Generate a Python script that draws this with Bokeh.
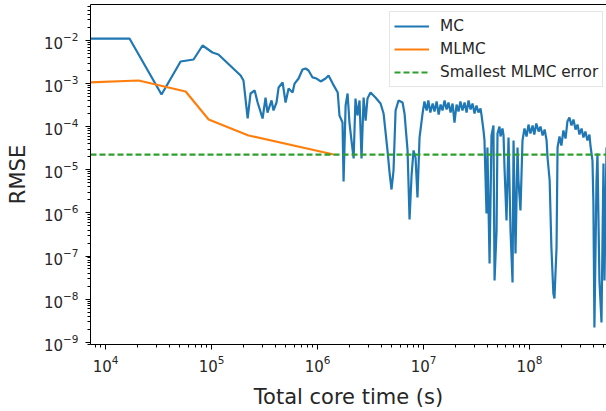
from bokeh.plotting import figure
from bokeh.models import Range1d, Legend, LegendItem, LogAxis, FixedTicker, LogTicker, LogTickFormatter
from bokeh.embed import file_html
from bokeh.resources import INLINE

# Plain Monte Carlo: (total core time [s], RMSE)
mc_samples = [
    (6.9e3, 1.11e-2), (1.68e4, 1.11e-2), (3.37e4, 5.58e-4), (5.10e4, 3.26e-3),
    (6.76e4, 3.62e-3), (8.22e4, 7.66e-3), (1.02e5, 5.27e-3), (1.16e5, 4.73e-3),
    (1.88e5, 1.54e-3), (2.00e5, 1.18e-3), (2.19e5, 1.55e-4), (2.33e5, 5.89e-4),
    (2.55e5, 6.92e-4), (2.72e5, 3.64e-4), (3.03e5, 1.55e-4), (3.23e5, 4.75e-4),
    (3.37e5, 2.13e-4), (3.68e5, 4.06e-4), (3.84e5, 2.38e-4), (4.10e5, 3.64e-4),
    (4.29e5, 8.13e-4), (4.68e5, 1.06e-3), (4.99e5, 3.64e-4), (5.33e5, 7.69e-4),
    (5.81e5, 6.22e-4), (6.07e5, 1.00e-3), (6.62e5, 1.31e-3), (7.21e5, 2.12e-3),
    (7.71e5, 2.24e-3), (8.22e5, 2.01e-3), (8.97e5, 1.39e-3), (9.79e5, 1.31e-3),
    (1.07e6, 1.12e-3), (1.19e6, 1.31e-3), (1.27e6, 1.54e-3), (1.39e6, 1.00e-3),
    (1.55e6, 6.22e-4), (1.61e6, 1.82e-4), (1.72e6, 1.25e-4), (1.76e6, 5.36e-6),
    (1.84e6, 3.10e-4), (1.92e6, 5.89e-4), (2.00e6, 1.25e-4), (2.09e6, 4.79e-5),
    (2.19e6, 1.83e-5), (2.28e6, 4.51e-4), (2.38e6, 1.82e-4), (2.49e6, 4.06e-4),
    (2.60e6, 1.83e-5), (2.72e6, 4.75e-4), (2.84e6, 1.39e-4), (2.96e6, 4.51e-4),
    (3.16e6, 6.22e-4), (3.52e6, 4.75e-4), (3.93e6, 3.45e-4), (4.20e6, 2.02e-4),
    (4.57e6, 2.81e-5), (4.78e6, 8.65e-6), (4.99e6, 3.49e-6), (5.21e6, 9.63e-6),
    (5.45e6, 2.38e-4), (5.81e6, 4.06e-4), (6.34e6, 3.64e-4), (6.62e6, 2.02e-4),
    (7.07e6, 2.81e-5), (7.38e6, 7.03e-7), (7.71e6, 7.38e-6), (8.05e6, 2.81e-5),
    (8.41e6, 1.93e-5), (8.77e6, 2.28e-6), (9.17e6, 5.61e-5),
    (9.79e6, 2.02e-4), (1.02e7, 3.84e-4), (1.07e7, 2.38e-4), (1.11e7, 4.06e-4),
    (1.16e7, 2.13e-4), (1.22e7, 3.45e-4), (1.27e7, 2.25e-4), (1.33e7, 3.84e-4),
    (1.39e7, 1.92e-4), (1.45e7, 3.27e-4), (1.51e7, 2.38e-4), (1.58e7, 4.06e-4),
    (1.65e7, 2.51e-4), (1.72e7, 3.64e-4), (1.80e7, 2.13e-4), (1.88e7, 3.45e-4),
    (1.96e7, 1.25e-4), (2.05e7, 3.27e-4), (2.14e7, 2.25e-4), (2.23e7, 3.84e-4),
    (2.33e7, 2.38e-4), (2.44e7, 3.64e-4), (2.55e7, 2.13e-4), (2.66e7, 4.06e-4),
    (2.78e7, 2.51e-4), (2.90e7, 3.45e-4), (3.03e7, 2.02e-4), (3.16e7, 3.10e-4),
    (3.30e7, 2.13e-4), (3.45e7, 2.64e-4), (3.52e7, 1.92e-4),
    (3.68e7, 8.17e-5), (3.76e7, 4.79e-5), (3.93e7, 9.68e-7), (4.01e7, 3.29e-5),
    (4.20e7, 6.70e-8), (4.38e7, 6.25e-5), (4.57e7, 1.07e-4), (4.68e7, 2.70e-8),
    (4.89e7, 3.91e-7), (4.99e7, 6.95e-5), (5.21e7, 1.01e-4), (5.33e7, 5.93e-5),
    (5.56e7, 9.08e-5), (5.69e7, 6.25e-5), (5.81e7, 1.13e-5), (6.07e7, 6.67e-7),
    (6.34e7, 5.61e-5), (6.62e7, 3.91e-7), (6.92e7, 2.43e-8), (7.07e7, 4.79e-5),
    (7.38e7, 1.14e-7), (7.71e7, 3.29e-5), (7.87e7, 5.65e-6), (8.22e7, 1.14e-6),
    (8.59e7, 4.79e-5),
    (8.97e7, 9.08e-5), (9.38e7, 5.93e-5), (9.79e7, 1.12e-4), (1.02e8, 6.95e-5),
    (1.07e8, 1.07e-4), (1.11e8, 6.59e-5), (1.16e8, 1.19e-4), (1.22e8, 7.74e-5),
    (1.27e8, 1.01e-4), (1.33e8, 6.25e-5), (1.39e8, 8.61e-5), (1.45e8, 4.79e-5),
    (1.48e8, 1.93e-5), (1.55e8, 5.65e-6), (1.61e8, 1.57e-7), (1.68e8, 1.35e-8),
    (1.72e8, 1.03e-8), (1.80e8, 1.57e-7), (1.84e8, 3.29e-5),
    (1.92e8, 5.93e-5), (2.00e8, 3.66e-5), (2.09e8, 8.17e-5), (2.19e8, 5.32e-5),
    (2.28e8, 1.32e-4), (2.38e8, 1.63e-4), (2.49e8, 1.07e-4), (2.60e8, 1.47e-4),
    (2.72e8, 8.61e-5), (2.84e8, 1.12e-4), (2.96e8, 6.59e-5), (3.10e8, 9.08e-5),
    (3.23e8, 5.61e-5), (3.37e8, 7.74e-5), (3.52e8, 4.79e-5), (3.68e8, 6.59e-5),
    (3.76e8, 3.66e-5),
    (3.93e8, 1.64e-5), (4.01e8, 1.65e-6), (4.10e8, 2.19e-9), (4.29e8, 5.65e-6),
    (4.38e8, 2.39e-5), (4.57e8, 2.70e-8), (4.78e8, 2.86e-9), (4.99e8, 1.40e-5),
    (5.10e8, 2.70e-8), (5.33e8, 3.29e-5), (5.81e8, 2.81e-5),
]
mc_time = [t for t, _ in mc_samples]
mc_rmse = [e for _, e in mc_samples]

# Multilevel Monte Carlo
mlmc_time = [6.9e3, 2.05e4, 5.69e4, 9.38e4, 2.23e5, 1.42e6]
mlmc_rmse = [1.06e-3, 1.18e-3, 6.56e-4, 1.47e-4, 6.25e-5, 2.26e-5]
smallest_mlmc_error = min(mlmc_rmse)

x_limits = (7.2e3, 5.33e8)
y_limits = (8.85e-10, 6.84e-2)

FONT = "DejaVu Sans"
TEXT = "#262626"

p = figure(
    width=606, height=411,
    x_axis_type="log", y_axis_type="log",
    x_range=Range1d(*x_limits), y_range=Range1d(*y_limits),
    output_backend="svg", toolbar_location=None,
    min_border_left=90, min_border_right=0, min_border_top=4, min_border_bottom=67,
)
p.outline_line_color = None
p.grid.visible = False
p.background_fill_color = "white"
p.border_fill_color = "white"

mc = p.line(mc_time, mc_rmse, line_color="#1f77b4", line_width=2.2)
mlmc = p.line(mlmc_time, mlmc_rmse, line_color="#ff7f0e", line_width=2.2)
best = p.line(list(x_limits), [smallest_mlmc_error, smallest_mlmc_error],
              line_color="#2ca02c", line_width=2.2, line_dash="6 3")

for ax in (p.xaxis[0], p.yaxis[0]):
    ax.ticker = LogTicker(num_minor_ticks=10)
    ax.formatter = LogTickFormatter()
    ax.axis_line_color = "black"
    ax.axis_line_width = 1
    ax.major_tick_line_color = "black"
    ax.minor_tick_line_color = "black"
    ax.major_tick_in = 0
    ax.major_tick_out = 5
    ax.minor_tick_in = 0
    ax.minor_tick_out = 3
    ax.major_label_text_font = FONT
    ax.major_label_text_font_size = "15px"
    ax.major_label_text_color = TEXT
    ax.axis_label_text_font = FONT
    ax.axis_label_text_font_size = "21px"
    ax.axis_label_text_font_style = "normal"
    ax.axis_label_text_color = TEXT

p.xaxis.axis_label = "Total core time (s)"
p.xaxis.major_label_standoff = 5
p.xaxis.axis_label_standoff = 10
p.yaxis.axis_label = "RMSE"
p.yaxis.major_label_standoff = 7
p.yaxis.axis_label_standoff = 11

# top spine
top = LogAxis(ticker=FixedTicker(ticks=[]), major_label_text_font_size="0px",
              major_tick_out=0, major_tick_in=0, minor_tick_out=0, minor_tick_in=0,
              major_label_standoff=0, axis_line_color="black")
p.add_layout(top, "above")

legend = Legend(
    items=[
        LegendItem(label="MC", renderers=[mc]),
        LegendItem(label="MLMC", renderers=[mlmc]),
        LegendItem(label="Smallest MLMC error", renderers=[best]),
    ],
    location=(299, 257),
    margin=0, padding=4, spacing=3,
    glyph_width=35, glyph_height=20, label_height=20, label_standoff=11,
    label_text_font=FONT, label_text_font_size="15.3px", label_text_color=TEXT,
    border_line_color="#cccccc", border_line_width=1,
    background_fill_color="white", background_fill_alpha=0.8,
)
p.add_layout(legend, "center")

open("out.html", "w").write(file_html(p, INLINE))
